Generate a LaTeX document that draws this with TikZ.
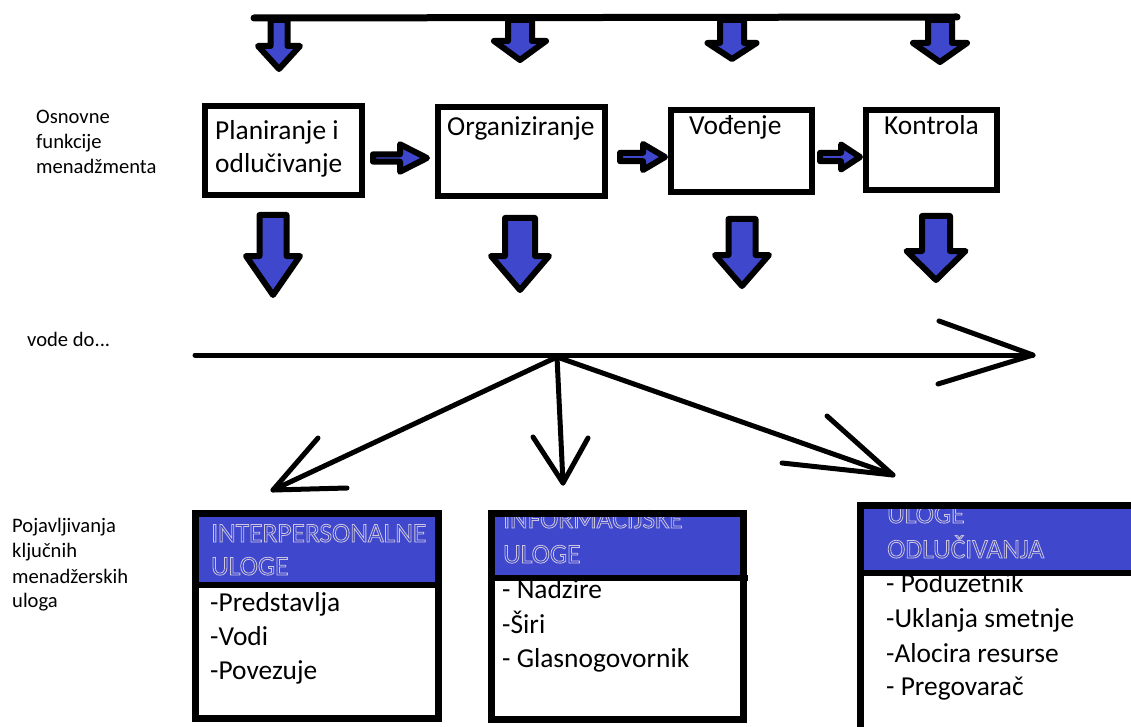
\documentclass[tikz,border=0pt]{standalone}
\usepackage{fontspec}
\setmainfont{Carlito}
\definecolor{indigo}{RGB}{63,72,204}
\definecolor{hdrline}{RGB}{205,198,222}
\newcommand\outl[1]{\special{pdf:literal direct 1 Tr 0.8 w}#1\special{pdf:literal direct 0 Tr}}
\newcommand\dnarr[6]{\draw[blockarrow] (#1-#5,#2) -- (#1-#5,#3) -- (#1-#6,#3) -- (#1,#4) -- (#1+#6,#3) -- (#1+#5,#3) -- (#1+#5,#2) -- cycle;}
\newcommand\rtarr[6]{\draw[blockarrow] (#2,#1-#5) -- (#3,#1-#5) -- (#3,#1-#6) -- (#4,#1) -- (#3,#1+#6) -- (#3,#1+#5) -- (#2,#1+#5) -- cycle;}
\tikzset{
  lbl/.style={anchor=base west, inner sep=0pt, font=\fontsize{20.6}{25}\selectfont},
  big/.style={anchor=base west, inner sep=0pt, font=\fontsize{27.4}{33}\selectfont},
  hdr/.style={big, text=hdrline},
  funcbox/.style={draw, line width=6pt, fill=white, inner sep=0pt},
  blockarrow/.style={draw, line width=6pt, fill=indigo, line join=round},
  hand/.style={line width=5pt, line cap=round, line join=round},
}
\begin{document}
\begin{tikzpicture}[x=1pt,y=-1pt]
\useasboundingbox (0,0) rectangle (1131,727);
\clip (0,0) rectangle (1131,727);
\fill[white] (0,0) rectangle (1131,727);

% left labels
\node[lbl] (l1) at (36,124) {Osnovne};
\node[lbl] (l2) at (36,149) {funkcije};
\node[lbl] (l3) at (36,174) {menadžmenta};
\node[lbl] (l4) at (27,346) {vode do...};
\node[lbl] (l5) at (12,532) {Pojavljivanja};
\node[lbl] (l6) at (12,557) {ključnih};
\node[lbl] (l7) at (12,583) {menadžerskih};
\node[lbl] (l8) at (12,607) {uloga};

% top arrows
\dnarr{279}{20}{46}{69}{8.5}{21}
\dnarr{520}{20}{41}{60}{12}{26}
\dnarr{732}{20}{43}{59}{12}{24.5}
\dnarr{940}{20}{43}{62}{12}{27}
\coordinate (tl) at (254,18);
\coordinate (tr) at (957,17);
\draw[hand, line width=7pt] (tl) -- (tr);

% function boxes
\node[funcbox, minimum width=157pt, minimum height=89pt] (f1) at (283.5,150.5) {};
\node[funcbox, minimum width=167pt, minimum height=89pt] (f2) at (521.5,151.5) {};
\node[funcbox, minimum width=141pt, minimum height=82pt] (f3) at (741.5,151) {};
\node[funcbox, minimum width=131pt, minimum height=80pt] (f4) at (931.5,150) {};
\node[big] (t1a) at (215,140) {Planiranje i};
\node[big] (t1b) at (215,173) {odlučivanje};
\node[big] (t2) at (447,136) {Organiziranje};
\node[big] (t3) at (689,135) {Vođenje};
\node[big] (t4) at (884,135) {Kontrola};

% arrows between boxes
\rtarr{158}{373}{400}{427}{3.7}{13.7}
\rtarr{157}{620}{643}{665}{4.2}{13}
\rtarr{157}{820}{841}{860}{4.2}{12.5}

% arrows below boxes
\dnarr{273}{215}{256}{295}{13.5}{27}
\dnarr{520}{218}{256}{290}{15}{29}
\dnarr{742}{219}{255}{286}{13.5}{27}
\dnarr{936}{216}{251}{280}{14}{29.5}

% long arrow
\coordinate (hs) at (195,355);
\coordinate (he) at (1033,355);
\draw[hand] (hs) -- (he);
\draw[hand] (939,321) -- (he) -- (938,384);

% branches
\coordinate (br) at (557,357);
\coordinate (lt) at (273,490);
\coordinate (mt) at (563,483);
\coordinate (rt) at (893,475);
\draw[hand] (br) -- (lt);
\draw[hand] (318,438) -- (lt) -- (347,488);
\draw[hand] (br) -- (560,420) -- (mt);
\draw[hand] (533,437) -- (mt) -- (588,438);
\draw[hand] (br) -- (rt);
\draw[hand] (827,416) -- (rt) -- (782,463);

% role box I
\fill[indigo] (195,513) rectangle (439,585);
\node[hdr] (h1a) at (211,542) {\outl{INTERPERSONALNE}};
\node[hdr] (h1b) at (211,575) {\outl{ULOGE}};
\node[big] (i1) at (210,611) {-Predstavlja};
\node[big] (i2) at (210,645) {-Vodi};
\node[big] (i3) at (210,679) {-Povezuje};
\draw[line width=6.5pt] (195.5,513.5) rectangle (438.5,718.5);
\draw[line width=6pt] (195.5,585) -- (438.5,585);

% role box II
\fill[indigo] (491,513) rectangle (744,578);
\node[hdr] (h2a) at (503,528) {\outl{INFORMACIJSKE}};
\node[hdr] (h2b) at (503,563) {\outl{ULOGE}};
\node[big] (j1) at (502,598) {- Nadzire};
\node[big] (j2) at (502,633) {-Širi};
\node[big] (j3) at (502,667) {- Glasnogovornik};
\draw[line width=7pt] (491.5,513.5) rectangle (743.5,719.5);
\draw[line width=6pt] (491.5,578) -- (748,578);

% role box III
\fill[indigo] (860,505) rectangle (1140,573);
\node[hdr] (h3a) at (887,523) {\outl{ULOGE}};
\node[hdr] (h3b) at (887,558) {\outl{ODLUČIVANJA}};
\node[big] (k1) at (886,592) {- Poduzetnik};
\node[big] (k2) at (886,627) {-Uklanja smetnje};
\node[big] (k3) at (886,662) {-Alocira resurse};
\node[big] (k4) at (886,695) {- Pregovarač};
\draw[line width=6.5pt] (860.5,505.5) rectangle (1145,745);
\draw[line width=6pt] (860.5,573) -- (1140,573);
\end{tikzpicture}
\end{document}
